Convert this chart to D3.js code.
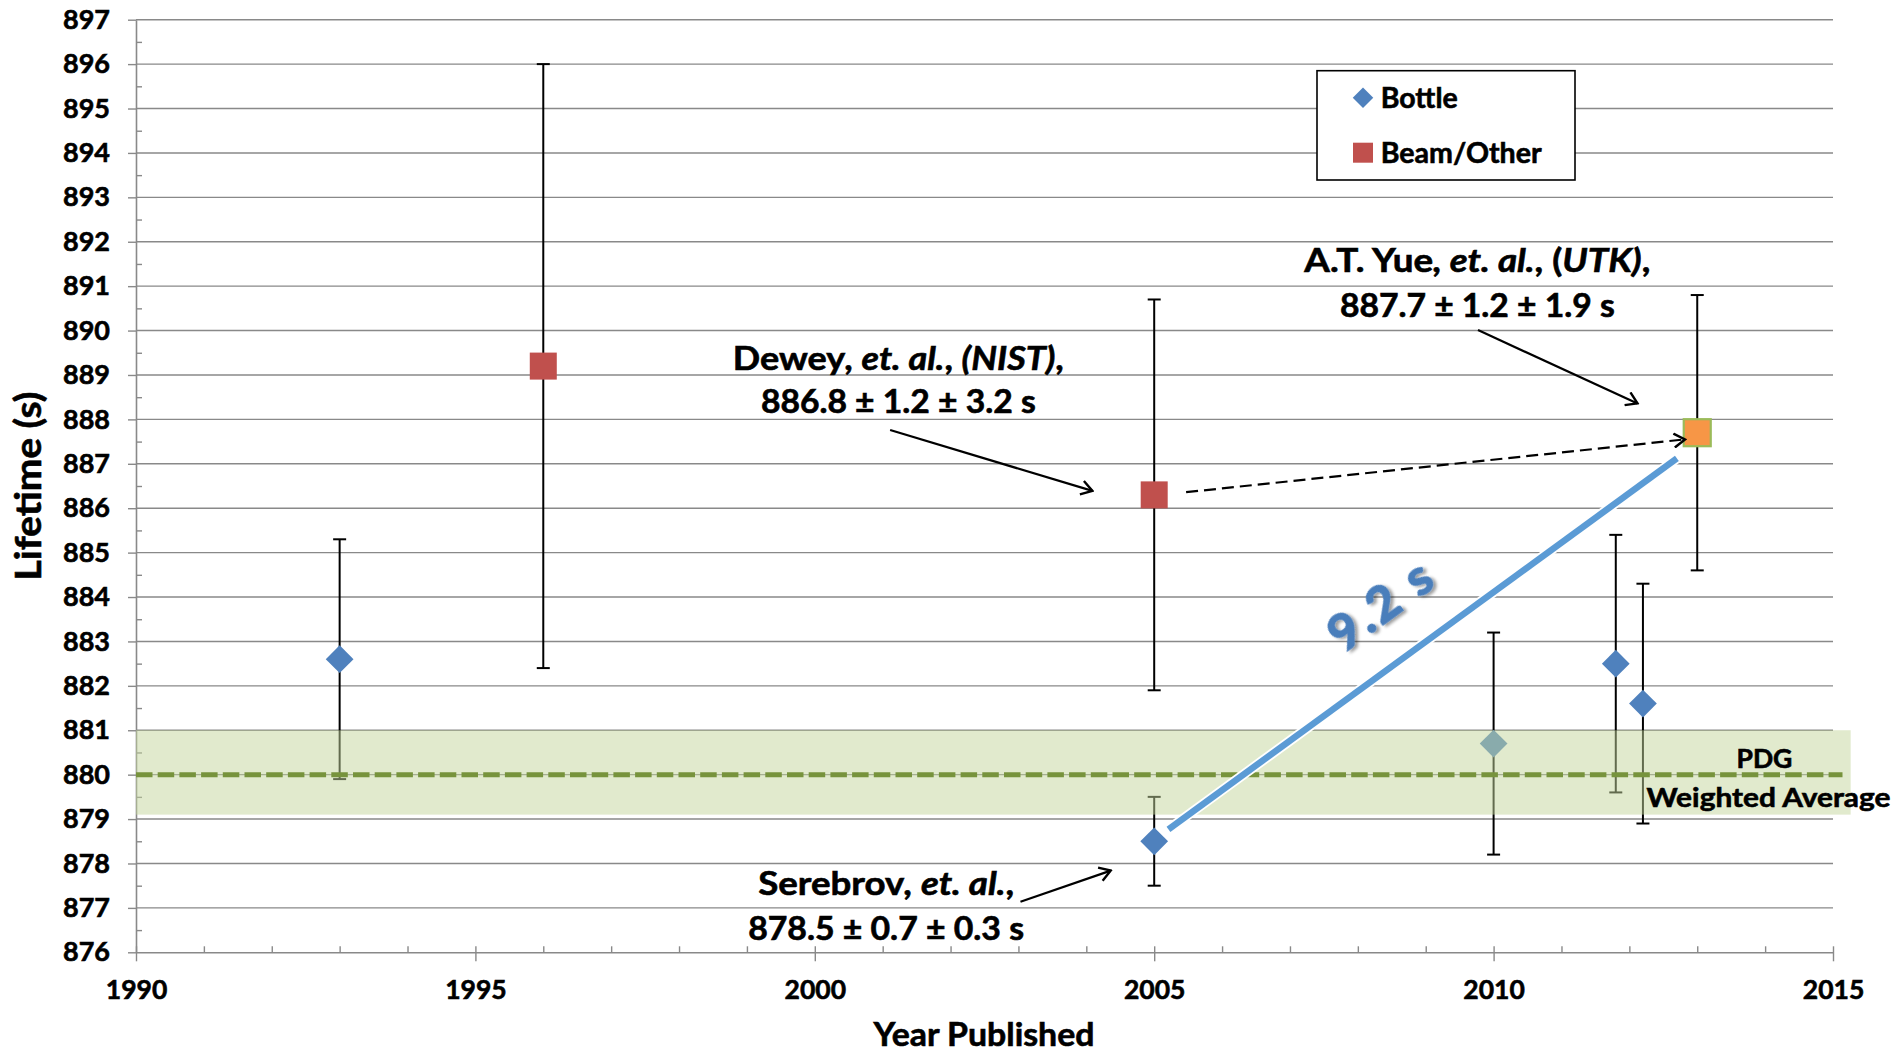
<!DOCTYPE html>
<html>
<head>
<meta charset="utf-8">
<script src="https://cdn.jsdelivr.net/npm/d3@7"></script>
<style>
  html, body { margin: 0; padding: 0; background: #fff; }
  svg { display: block; font-family: "Lato", "Noto Sans", sans-serif; font-weight: bold; }
  .heavy { stroke: #000; stroke-width: 0.6px; paint-order: stroke; }
</style>
</head>
<body>
<svg id="chart" width="1897" height="1054"></svg>
<script>
// ---------------- data ----------------
const bottleYears    = [1993, 2005, 2010, 2011.8, 2012.2];
const bottleLifetime = [882.6, 878.5, 880.7, 882.5, 881.6];
const bottleErrLow   = [879.9, 877.5, 878.2, 879.6, 878.9];
const bottleErrHigh  = [885.3, 879.5, 883.2, 885.4, 884.3];

const beamYears    = [1996, 2005, 2013];
const beamLifetime = [889.2, 886.3, 887.7];
const beamErrLow   = [882.4, 881.9, 884.6];
const beamErrHigh  = [896.0, 890.7, 890.8];
const highlightYear = 2013;

const pdgAverage = 880.0;
const pdgBandLow = 879.1;
const pdgBandHigh = 881.0;

const yTickValues = d3.range(876, 898, 1);
const xTickValues = [1990, 1995, 2000, 2005, 2010, 2015];
const legendLabels = ["Bottle", "Beam/Other"];

// 9.2 s shift line (from Serebrov to Yue, in data units)
const shiftLineYears = [2005.21, 2012.70];
const shiftLineValues = [878.77, 887.12];
// dashed arrow (Dewey -> Yue)
const dashYears = [2005.47, 2012.82];
const dashValues = [886.36, 887.55];

// annotation arrows [x0,y0,x1,y1] in data units
const arrowDewey    = [2001.11, 887.76, 2004.09, 886.39];
const arrowYue      = [2009.77, 890.01, 2012.12, 888.36];
const arrowSerebrov = [2003.03, 877.14, 2004.36, 877.84];

// ---------------- layout ----------------
const svg = d3.select("#chart");
const X0 = 136, X1 = 1833, Y0 = 952.3, Y1 = 19.7;
const x = d3.scaleLinear().domain([1990, 2015]).range([X0, X1]);
const y = d3.scaleLinear().domain([876, 897]).range([Y0, Y1]);

const gridColor = "#898989";

// gridlines
svg.append("g").selectAll("line").data(yTickValues.slice(1)).join("line")
  .attr("x1", X0).attr("x2", X1)
  .attr("y1", d => y(d)).attr("y2", d => y(d))
  .attr("stroke", gridColor).attr("stroke-width", 1.4);

// y axis
const yAxis = svg.append("g").attr("transform", `translate(${X0},0)`)
  .call(d3.axisLeft(y).tickValues(yTickValues).tickSize(8).tickPadding(18).tickSizeOuter(0).tickFormat(d3.format("d")));
yAxis.select(".domain").attr("stroke", gridColor).attr("stroke-width", 1.6);
yAxis.selectAll(".tick line").attr("stroke", gridColor).attr("stroke-width", 1.4);
yAxis.selectAll(".tick text").attr("font-size", 27).attr("font-weight", "bold").attr("fill", "#000")
  .attr("font-family", "Lato").attr("class", "heavy");
// minor y ticks (inside)
svg.append("g").attr("transform", `translate(${X0},0)`)
  .call(d3.axisRight(y).tickValues(d3.range(876.5, 897, 1)).tickSize(6).tickFormat(""))
  .call(g => g.select(".domain").remove())
  .selectAll("line").attr("stroke", gridColor).attr("stroke-width", 1.4);

// x axis
const xAxis = svg.append("g").attr("transform", `translate(0,${Y0})`)
  .call(d3.axisBottom(x).tickValues(xTickValues).tickSize(9).tickPadding(19).tickSizeOuter(0).tickFormat(d3.format("d")));
xAxis.select(".domain").attr("stroke", gridColor).attr("stroke-width", 1.6);
xAxis.selectAll(".tick line").attr("stroke", gridColor).attr("stroke-width", 1.4).attr("y1", -6);
xAxis.selectAll(".tick text").attr("font-size", 26.5).attr("font-weight", "bold").attr("fill", "#000")
  .attr("font-family", "Lato").attr("class", "heavy");
// minor x ticks
svg.append("g").attr("transform", `translate(0,${Y0})`)
  .call(d3.axisTop(x).tickValues(d3.range(1991, 2015, 1).filter(v => v % 5 !== 0)).tickSize(6).tickFormat(""))
  .call(g => g.select(".domain").remove())
  .selectAll("line").attr("stroke", gridColor).attr("stroke-width", 1.4);

// error bars
function errorBars(years, lows, highs) {
  const g = svg.append("g");
  years.forEach((yr, i) => {
    const cx = x(yr);
    g.append("line").attr("x1", cx).attr("x2", cx).attr("y1", y(highs[i])).attr("y2", y(lows[i]))
      .attr("stroke", "#000").attr("stroke-width", 2);
    [highs[i], lows[i]].forEach(v => {
      g.append("line").attr("x1", cx - 6.5).attr("x2", cx + 6.5).attr("y1", y(v)).attr("y2", y(v))
        .attr("stroke", "#000").attr("stroke-width", 2);
    });
  });
}
errorBars(bottleYears, bottleErrLow, bottleErrHigh);
errorBars(beamYears, beamErrLow, beamErrHigh);

// markers
svg.append("g").selectAll("path").data(bottleYears.map((yr, i) => [yr, bottleLifetime[i]])).join("path")
  .attr("d", d3.symbol().type(d3.symbolSquare).size(385)())
  .attr("transform", d => `translate(${x(d[0])},${y(d[1])}) rotate(45)`)
  .attr("fill", "#4F81BD");
const sq = 27;
svg.append("g").selectAll("rect").data(beamYears.map((yr, i) => [yr, beamLifetime[i]])).join("rect")
  .attr("x", d => x(d[0]) - sq / 2).attr("y", d => y(d[1]) - sq / 2)
  .attr("width", sq).attr("height", sq)
  .attr("fill", d => d[0] === highlightYear ? "#F79646" : "#C0504D")
  .attr("stroke", d => d[0] === highlightYear ? "#9BBB59" : "none")
  .attr("stroke-width", 2.2);

// PDG band (semi-transparent, drawn over)
svg.append("rect")
  .attr("x", x(1990)).attr("width", x(2015.26) - x(1990))
  .attr("y", y(pdgBandHigh)).attr("height", y(pdgBandLow) - y(pdgBandHigh))
  .attr("fill", "#C3D69B").attr("fill-opacity", 0.5);
svg.append("line")
  .attr("x1", x(1990)).attr("x2", x(2015.14))
  .attr("y1", y(pdgAverage)).attr("y2", y(pdgAverage))
  .attr("stroke", "#77933C").attr("stroke-width", 5).attr("stroke-dasharray", "16.5,5.2");

// arrow marker defs
const defs = svg.append("defs");
defs.append("marker").attr("id", "openArrow").attr("viewBox", "-12 -8 14 16")
  .attr("refX", 0).attr("refY", 0).attr("markerWidth", 14).attr("markerHeight", 16)
  .attr("markerUnits", "userSpaceOnUse").attr("orient", "auto")
  .append("path").attr("d", "M-11,-7 L0,0 L-11,7").attr("fill", "none")
  .attr("stroke", "#000").attr("stroke-width", 2.4);
const shadow = defs.append("filter").attr("id", "txtShadow").attr("x", "-20%").attr("y", "-20%").attr("width", "140%").attr("height", "140%");
shadow.append("feDropShadow").attr("dx", 2).attr("dy", 3).attr("stdDeviation", 1.6)
  .attr("flood-color", "#000").attr("flood-opacity", 0.38);

// shift line (white halo + blue)
const sl = [x(shiftLineYears[0]), y(shiftLineValues[0]), x(shiftLineYears[1]), y(shiftLineValues[1])];
svg.append("line").attr("x1", sl[0]).attr("y1", sl[1]).attr("x2", sl[2]).attr("y2", sl[3])
  .attr("stroke", "#fff").attr("stroke-width", 10);
svg.append("line").attr("x1", sl[0]).attr("y1", sl[1]).attr("x2", sl[2]).attr("y2", sl[3])
  .attr("stroke", "#5B9BD5").attr("stroke-width", 6.5);

// dashed arrow
svg.append("line")
  .attr("x1", x(dashYears[0])).attr("y1", y(dashValues[0]))
  .attr("x2", x(dashYears[1])).attr("y2", y(dashValues[1]))
  .attr("stroke", "#000").attr("stroke-width", 2.2).attr("stroke-dasharray", "12,6")
  .attr("marker-end", "url(#openArrow)");

// solid annotation arrows
[arrowDewey, arrowYue, arrowSerebrov].forEach(a => {
  svg.append("line").attr("x1", x(a[0])).attr("y1", y(a[1])).attr("x2", x(a[2])).attr("y2", y(a[3]))
    .attr("stroke", "#000").attr("stroke-width", 2.2).attr("marker-end", "url(#openArrow)");
});

// text helper: parts = [[text, italic], ...]
function addText(cx, cy, parts, size, targetW, anchor = "middle", rotate = 0) {
  const g = svg.append("g");
  const t = g.append("text").attr("font-size", size).attr("font-weight", "bold")
    .attr("text-anchor", anchor).attr("fill", "#000").attr("font-family", "Lato")
    .attr("class", "heavy");
  parts.forEach(p => t.append("tspan").text(p[0]).attr("font-style", p[1] ? "italic" : "normal"));
  let sx = 1;
  if (targetW) {
    const w = t.node().getComputedTextLength();
    sx = targetW / w;
  }
  g.attr("transform", `translate(${cx},${cy}) rotate(${rotate}) scale(${sx},1)`);
  return t;
}

// annotation texts (anchors in data units)
addText(x(2001.23), y(889.11), [["Dewey", false], [", et. al.", true], [", ", false], ["(NIST)", true], [",", false]], 32, 331);
addText(x(2001.23), y(888.14), [["886.8 ± 1.2 ± 3.2 s", false]], 32, 275);
addText(x(2009.76), y(891.33), [["A.T. Yue", false], [", et. al.", true], [", (", false], ["UTK)", true], [",", false]], 32, 346);
addText(x(2009.76), y(890.31), [["887.7 ± 1.2 ± 1.9 s", false]], 32, 275);
addText(x(2001.05), y(877.29), [["Serebrov", false], [", et. al.", true], [",", false]], 32, 256);
addText(x(2001.05), y(876.28), [["878.5 ± 0.7 ± 0.3 s", false]], 32, 276);

addText(x(2013.99), y(880.15), [["PDG", false]], 26, 56);
addText(x(2014.05), y(879.28), [["Weighted Average", false]], 27, 244);

// 9.2 s label
const ang = Math.atan2(sl[3] - sl[1], sl[2] - sl[0]) * 180 / Math.PI;
svg.append("text").text("9.2 s")
  .attr("transform", `translate(${x(2008.33)},${y(883.86)}) rotate(${ang})`)
  .attr("text-anchor", "middle").attr("dominant-baseline", "central")
  .attr("font-size", 50).attr("font-weight", "bold").attr("letter-spacing", 3)
  .attr("fill", "#4A7EBB").attr("stroke", "#4A7EBB").attr("stroke-width", 1.6)
  .attr("filter", "url(#txtShadow)").attr("font-family", "Lato");

// axis titles
addText(984, 1046, [["Year Published", false]], 32, 221);
addText(41, 486, [["Lifetime (s)", false]], 37, 189, "middle", -90);

// legend
const lg = svg.append("g");
lg.append("rect").attr("x", 1317).attr("y", 70.7).attr("width", 258).attr("height", 109.3)
  .attr("fill", "#fff").attr("stroke", "#000").attr("stroke-width", 1.6);
lg.append("path").attr("d", d3.symbol().type(d3.symbolSquare).size(210)())
  .attr("transform", "translate(1363,97.7) rotate(45)").attr("fill", "#4F81BD");
lg.append("rect").attr("x", 1353).attr("y", 142.7).attr("width", 20).attr("height", 20).attr("fill", "#C0504D");
addText(1380.7, 108, [[legendLabels[0], false]], 29, 77, "start");
addText(1380.7, 162.7, [[legendLabels[1], false]], 29, 161, "start");
</script>
</body>
</html>
